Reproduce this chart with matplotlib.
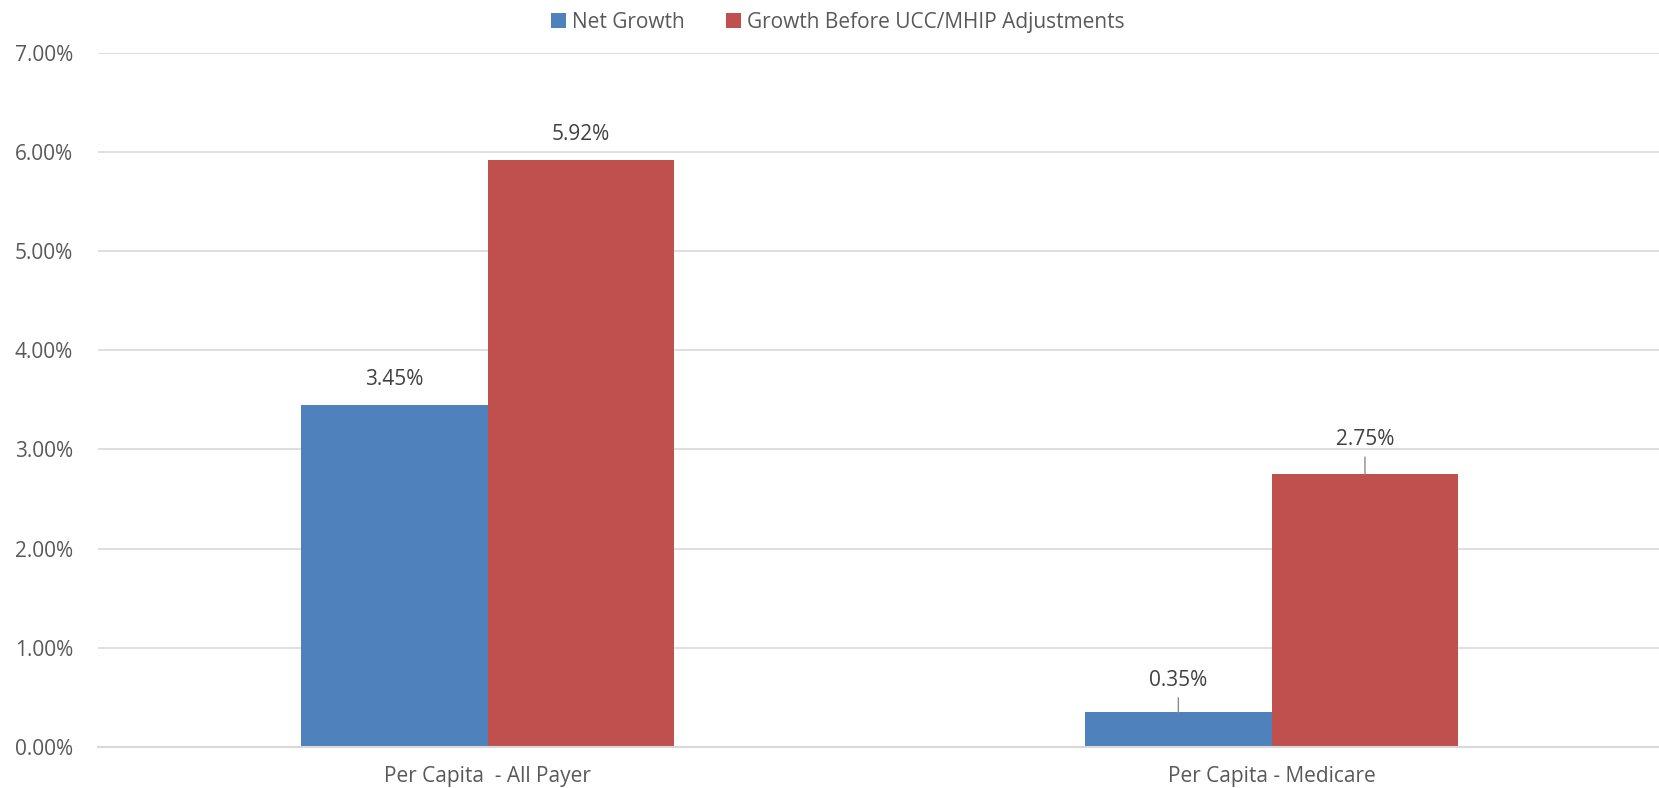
import matplotlib
matplotlib.use('Agg')
import matplotlib.pyplot as plt
import numpy as np

# Chart data
categories = ['Per Capita  - All Payer', 'Per Capita - Medicare']
series_names = ['Net Growth', 'Growth Before UCC/MHIP Adjustments']
net_growth = [3.45, 0.35]
growth_before = [5.92, 2.75]
y_ticks = [0, 1, 2, 3, 4, 5, 6, 7]

COLORS = ['#4F81BD', '#C0504D']
TEXT = '#595959'
GRID = '#D9D9D9'
FS = 15

plt.rcParams['font.family'] = ['Open Sans', 'DejaVu Sans']

fig = plt.figure(figsize=(16.59, 7.88), dpi=100)
ax = fig.add_axes([0.059, 0.052, 0.941, 0.881])

x = np.arange(len(categories))
width = 0.238
bars1 = ax.bar(x - width / 2, net_growth, width, color=COLORS[0], label=series_names[0])
bars2 = ax.bar(x + width / 2, growth_before, width, color=COLORS[1], label=series_names[1])

ax.set_xlim(-0.497, 1.494)
ax.set_ylim(0, 7)
ax.set_yticks(y_ticks)
ax.set_yticklabels([f'{v:.2f}%' for v in y_ticks])
ax.set_xticks(x)
ax.set_xticklabels(categories)
ax.tick_params(axis='both', length=0, labelsize=FS, colors=TEXT)
ax.tick_params(axis='x', pad=14)
ax.tick_params(axis='y', pad=18)

ax.grid(axis='y', color=GRID, linewidth=1.2)
ax.set_axisbelow(True)
for side in ['top', 'right', 'left']:
    ax.spines[side].set_visible(False)
ax.spines['bottom'].set_color(GRID)
ax.spines['bottom'].set_linewidth(1.5)


def label_bar(bar, value, offset, leader=False):
    cx = bar.get_x() + bar.get_width() / 2
    props = None
    if leader:
        props = dict(arrowstyle='-', color='#8C8C8C', lw=1, shrinkA=3, shrinkB=0)
    ax.annotate(f'{value:.2f}%', xy=(cx, value), xytext=(0, offset),
                textcoords='offset points', ha='center', va='center',
                fontsize=FS, color='#404040', arrowprops=props)


label_bar(bars1[0], net_growth[0], 18)
label_bar(bars2[0], growth_before[0], 18)
label_bar(bars1[1], net_growth[1], 23, leader=True)
label_bar(bars2[1], growth_before[1], 25, leader=True)

leg = fig.legend(handles=[bars1, bars2], labels=series_names, loc='center',
                 bbox_to_anchor=(0.505, 0.972), ncol=2, frameon=False,
                 fontsize=FS, handlelength=0.7, handleheight=0.7,
                 handletextpad=0.3, columnspacing=2.0)
for t in leg.get_texts():
    t.set_color(TEXT)

fig.savefig('out.png', dpi=100, facecolor='white')
